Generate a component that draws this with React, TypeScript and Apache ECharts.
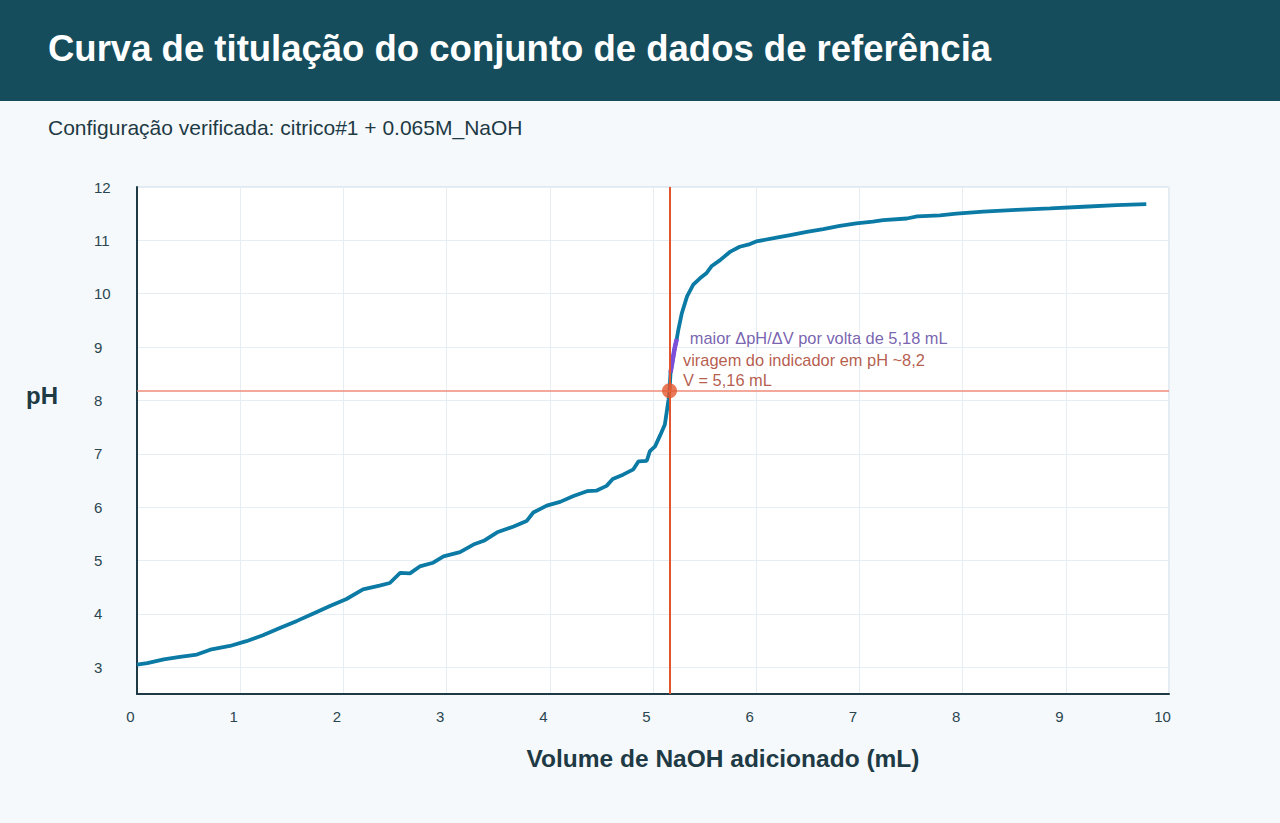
import React, { useEffect, useRef } from 'react';
import * as echarts from 'echarts';

// titration data
const volumeML = [
  0.0, 0.1, 0.26, 0.4, 0.58, 0.71, 0.9, 1.06, 1.22, 1.39, 1.55, 1.71, 1.87, 2.03, 2.19, 2.35,
  2.45, 2.55, 2.645, 2.74, 2.87, 2.97, 3.13, 3.26, 3.36, 3.49, 3.65, 3.775, 3.84, 3.97, 4.1,
  4.23, 4.36, 4.45, 4.55, 4.61, 4.71, 4.81, 4.86, 4.94, 4.97, 5.02, 5.07, 5.115, 5.15, 5.16,
  5.165, 5.17, 5.19, 5.21, 5.23, 5.245, 5.28, 5.33, 5.39, 5.455, 5.52, 5.57, 5.65, 5.75, 5.84,
  5.94, 6.0, 6.17, 6.33, 6.49, 6.65, 6.81, 6.97, 7.13, 7.23, 7.46, 7.56, 7.78, 7.94, 8.2, 8.52,
  8.85, 9.17, 9.49, 9.78,
];
const phValues = [
  3.05, 3.08, 3.15, 3.19, 3.24, 3.33, 3.4, 3.49, 3.6, 3.74, 3.87, 4.01, 4.15, 4.28, 4.46, 4.53,
  4.58, 4.77, 4.76, 4.89, 4.96, 5.08, 5.16, 5.3, 5.37, 5.53, 5.64, 5.74, 5.9, 6.03, 6.1,
  6.21, 6.3, 6.31, 6.4, 6.53, 6.61, 6.71, 6.86, 6.87, 7.05, 7.14, 7.35, 7.55, 8.01, 8.18,
  8.35, 8.52, 8.75, 8.98, 9.15, 9.32, 9.64, 9.95, 10.17, 10.29, 10.39, 10.52, 10.63, 10.79, 10.88,
  10.93, 10.98, 11.04, 11.1, 11.16, 11.21, 11.27, 11.32, 11.35, 11.38, 11.41, 11.45, 11.47, 11.5, 11.54, 11.57,
  11.6, 11.63, 11.66, 11.68,
];

const eqVolume = 5.16;
const eqPH = 8.18;
const steepStart = 5.17;
const steepEnd = 5.23;

const curve = volumeML.map((v, i) => [v, phValues[i]]);
const steepSegment = curve.filter(([v]) => v >= steepStart && v <= steepEnd);
const steepTop = steepSegment[steepSegment.length - 1];

const FONT = '"Liberation Sans", Arial, sans-serif';

const App: React.FC = () => {
  const chartRef = useRef<HTMLDivElement | null>(null);

  useEffect(() => {
    if (!chartRef.current) return;
    const chart = echarts.init(chartRef.current, undefined, { renderer: 'svg' });

    const option: echarts.EChartsOption = {
      animation: false,
      backgroundColor: '#f5f9fc',
      textStyle: { fontFamily: FONT },
      graphic: [
        {
          type: 'rect',
          z: -10,
          shape: { x: 0, y: 0, width: 1280, height: 101 },
          style: { fill: '#164d5c' },
        },
        {
          type: 'text',
          x: 48,
          y: 48,
          style: {
            text: 'Curva de titulação do conjunto de dados de referência',
            fill: '#ffffff',
            font: `bold 36.5px ${FONT}`,
            verticalAlign: 'middle',
          },
        },
        {
          type: 'text',
          x: 48,
          y: 127,
          style: {
            text: 'Configuração verificada: citrico#1 + 0.065M_NaOH',
            fill: '#1e3a44',
            font: `21px ${FONT}`,
            verticalAlign: 'middle',
          },
        },
        {
          type: 'text',
          x: 26,
          y: 395,
          style: {
            text: 'pH',
            fill: '#1e3a44',
            font: `bold 24px ${FONT}`,
            verticalAlign: 'middle',
          },
        },
        {
          type: 'text',
          x: 723,
          y: 758,
          style: {
            text: 'Volume de NaOH adicionado (mL)',
            fill: '#1e3a44',
            font: `bold 24.5px ${FONT}`,
            align: 'center',
            verticalAlign: 'middle',
          },
        },
      ],
      grid: {
        left: 137,
        right: 111,
        top: 187,
        bottom: 129,
        show: true,
        backgroundColor: '#ffffff',
        borderColor: '#c8d8e2',
        borderWidth: 1,
      },
      xAxis: {
        type: 'value',
        min: 0,
        max: 10,
        interval: 1,
        axisLine: { show: true, onZero: false, lineStyle: { color: '#1e3a44', width: 2 } },
        axisTick: { show: false },
        axisLabel: { color: '#2b4650', fontSize: 15, margin: 15, padding: [0, 13, 0, 0] },
        splitLine: { show: true, lineStyle: { color: '#e7eef3', width: 1 } },
      },
      yAxis: {
        type: 'value',
        min: 2.5,
        max: 12,
        splitNumber: 10,
        minInterval: 1,
        maxInterval: 1,
        axisLine: { show: true, onZero: false, lineStyle: { color: '#1e3a44', width: 2 } },
        axisTick: { show: false },
        axisLabel: {
          color: '#2b4650',
          fontSize: 15,
          margin: 43,
          align: 'left',
          showMinLabel: false,
          formatter: (v: number) => (Number.isInteger(v) ? String(v) : ''),
        },
        splitLine: { show: true, lineStyle: { color: '#e7eef3', width: 1 } },
      },
      series: [
        {
          name: 'pH',
          type: 'line',
          data: curve,
          showSymbol: false,
          lineStyle: { color: '#0b7aa5', width: 3.8 },
          z: 3,
          markLine: {
            silent: true,
            symbol: 'none',
            label: { show: false },
            data: [
              { xAxis: eqVolume, lineStyle: { color: '#e0542e', width: 2, type: 'solid' } },
              { yAxis: eqPH, lineStyle: { color: '#f08b78', width: 1.5, type: 'solid' } },
            ],
          },
        },
        {
          name: 'maior ΔpH/ΔV',
          type: 'line',
          data: steepSegment,
          showSymbol: false,
          lineStyle: { color: '#7b4fd8', width: 4.5 },
          z: 4,
        },
        {
          name: 'anotação',
          type: 'scatter',
          data: [steepTop],
          symbolSize: 2,
          itemStyle: { color: 'transparent' },
          z: 5,
          label: {
            show: true,
            position: 'right',
            distance: 12,
            offset: [0, -1],
            color: '#553a9c',
            fontSize: 16.4,
            formatter: 'maior ΔpH/ΔV por volta de 5,18 mL',
          },
        },
        {
          name: 'viragem',
          type: 'scatter',
          data: [[eqVolume, eqPH]],
          symbolSize: 15,
          itemStyle: { color: '#e4572e' },
          z: 6,
          label: {
            show: true,
            position: 'right',
            distance: 6,
            offset: [0, -21],
            color: '#a3321b',
            fontSize: 16.4,
            lineHeight: 20,
            formatter: 'viragem do indicador em pH ~8,2\nV = 5,16 mL',
          },
        },
      ],
    };

    chart.setOption(option);
    return () => {
      chart.dispose();
    };
  }, []);

  return (
    <div
      ref={chartRef}
      style={{ position: 'fixed', left: 0, top: 0, width: '1280px', height: '823px' }}
    />
  );
};

export default App;
